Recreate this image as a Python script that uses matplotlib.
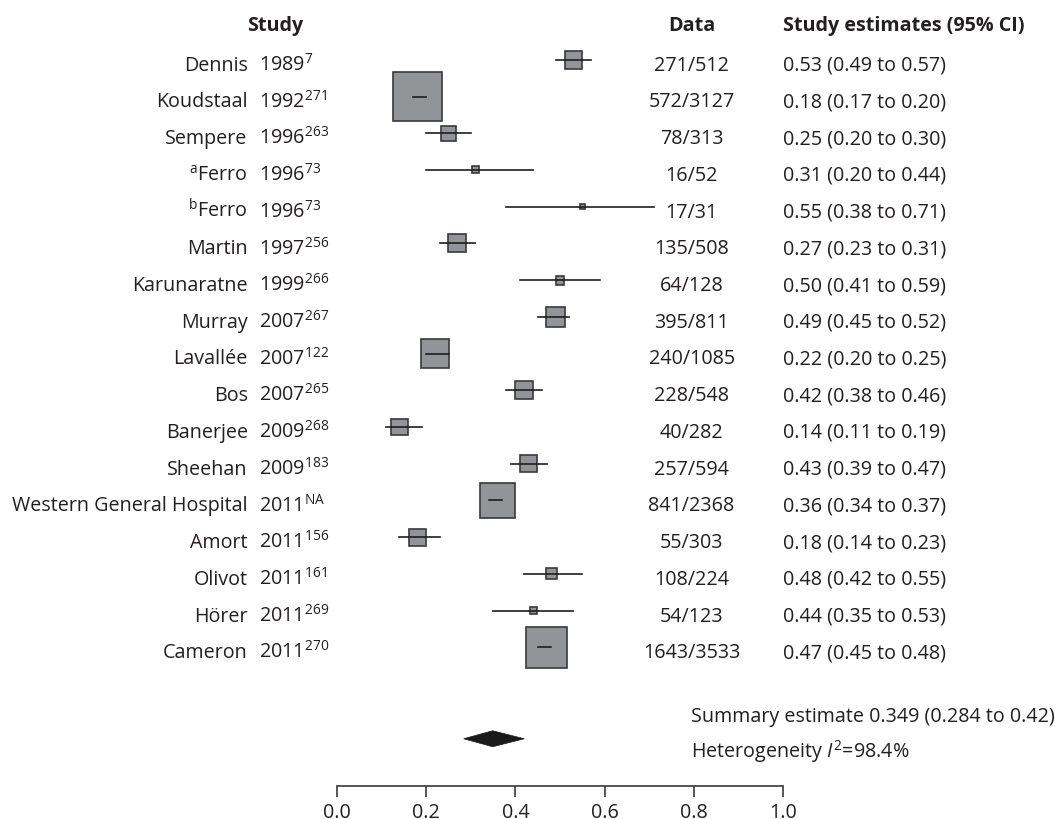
import numpy as np
import matplotlib.pyplot as plt
from matplotlib.patches import Rectangle, Polygon

# study data
authors = ['Dennis', 'Koudstaal', 'Sempere', 'Ferro', 'Ferro', 'Martin', 'Karunaratne',
           'Murray', 'Lavallée', 'Bos', 'Banerjee', 'Sheehan', 'Western General Hospital',
           'Amort', 'Olivot', 'Hörer', 'Cameron']
prefixes = ['', '', '', 'a', 'b', '', '', '', '', '', '', '', '', '', '', '', '']
years = [1989, 1992, 1996, 1996, 1996, 1997, 1999, 2007, 2007, 2007, 2009, 2009, 2011,
         2011, 2011, 2011, 2011]
refs = ['7', '271', '263', '73', '73', '256', '266', '267', '122', '265', '268', '183',
        'NA', '156', '161', '269', '270']
events = [271, 572, 78, 16, 17, 135, 64, 395, 240, 228, 40, 257, 841, 55, 108, 54, 1643]
totals = [512, 3127, 313, 52, 31, 508, 128, 811, 1085, 548, 282, 594, 2368, 303, 224, 123, 3533]
est = [0.53, 0.18, 0.25, 0.31, 0.55, 0.27, 0.50, 0.49, 0.22, 0.42, 0.14, 0.43, 0.36,
       0.18, 0.48, 0.44, 0.47]
lo = [0.49, 0.17, 0.20, 0.20, 0.38, 0.23, 0.41, 0.45, 0.20, 0.38, 0.11, 0.39, 0.34,
      0.14, 0.42, 0.35, 0.45]
hi = [0.57, 0.20, 0.30, 0.44, 0.71, 0.31, 0.59, 0.52, 0.25, 0.46, 0.19, 0.47, 0.37,
      0.23, 0.55, 0.53, 0.48]
# relative weights (%)
weight_pct = [3.6, 27.4, 2.6, 0.56, 0.25, 3.7, 0.92, 4.4, 9.1, 3.7, 3.2, 3.2, 13.4,
              3.2, 1.4, 0.6, 18.9]

summary_est, summary_lo, summary_hi = 0.349, 0.284, 0.42
i2 = 98.4
xticks = [0.0, 0.2, 0.4, 0.6, 0.8, 1.0]

plt.rcParams['font.family'] = ['Open Sans', 'DejaVu Sans']
plt.rcParams['mathtext.fontset'] = 'custom'
plt.rcParams['mathtext.rm'] = 'Open Sans'
plt.rcParams['mathtext.it'] = 'Open Sans:italic'
plt.rcParams['mathtext.default'] = 'regular'

W, H = 1059, 820
fig = plt.figure(figsize=(W / 100, H / 100), dpi=100)
ax = fig.add_axes([0, 0, 1, 1])

# pixel layout -> data units
x0px, upx = 337, 446          # position of 0 and pixels per unit
row0, drow = 60.8, 36.72      # first row centre and row spacing (px)
ax.set_xlim(-x0px / upx, (W - x0px) / upx)
ax.set_ylim((H - row0) / drow, -row0 / drow)

txt = '#231f20'
fs = 14.2
rows = np.arange(len(authors))

for i in rows:
    side = 9.36 * np.sqrt(weight_pct[i])
    w, h = side / upx, side / drow
    ax.add_patch(Rectangle((est[i] - w / 2, i - h / 2), w, h, facecolor='#939497',
                           edgecolor='#3a3a3a', lw=1.2, zorder=2))
    ax.plot([lo[i], hi[i]], [i, i], color='#1e1e1e', lw=1.2, zorder=3)

    base = i + 0.27
    ax.text(-0.20, base, (f'$^{{{prefixes[i]}}}$' if prefixes[i] else '') + authors[i],
            ha='right', va='baseline', fontsize=fs, color=txt)
    ax.text(-0.174, base, f'{years[i]}$^{{{refs[i]}}}$', ha='left', va='baseline',
            fontsize=fs, color=txt)
    ax.text(0.795, base, f'{events[i]}/{totals[i]}', ha='center', va='baseline',
            fontsize=fs, color=txt)
    ax.text(1.0, base, f'{est[i]:.2f} ({lo[i]:.2f} to {hi[i]:.2f})', ha='left',
            va='baseline', fontsize=fs, color=txt)

# headers
hy = -0.80
ax.text(-0.139, hy, 'Study', ha='center', va='baseline', fontsize=fs, fontweight='bold', color=txt)
ax.text(0.795, hy, 'Data', ha='center', va='baseline', fontsize=fs, fontweight='bold', color=txt)
ax.text(1.0, hy, 'Study estimates (95% CI)', ha='left', va='baseline', fontsize=fs,
        fontweight='bold', color=txt)

# summary diamond
dy = 18.49
dh = 8 / drow
ax.add_patch(Polygon([[summary_lo, dy], [summary_est, dy - dh], [summary_hi, dy],
                      [summary_est, dy + dh]], closed=True, facecolor='#1a1a1a',
                     edgecolor='#1a1a1a', lw=0.5, zorder=3))
ax.text(0.794, 18.0, f'Summary estimate {summary_est} ({summary_lo} to {summary_hi})',
        ha='left', va='baseline', fontsize=fs, color=txt)
ax.text(0.794, 18.99, f'Heterogeneity $\\mathit{{I}}^{{2}}$={i2}%', ha='left',
        va='baseline', fontsize=fs, color=txt)

# axis
for s in ['left', 'right', 'top']:
    ax.spines[s].set_visible(False)
ax.spines['bottom'].set_position(('data', 19.77))
ax.spines['bottom'].set_bounds(0, 1)
ax.spines['bottom'].set_color('#3a3a3a')
ax.spines['bottom'].set_linewidth(1.2)
ax.set_yticks([])
ax.set_xticks(xticks)
ax.set_xticklabels([f'{t:.1f}' for t in xticks])
ax.tick_params(axis='x', direction='out', length=8, width=1.2, color='#3a3a3a',
               labelsize=fs, labelcolor=txt, pad=3.5)
ax.patch.set_visible(False)

fig.savefig('out.png', dpi=100)
